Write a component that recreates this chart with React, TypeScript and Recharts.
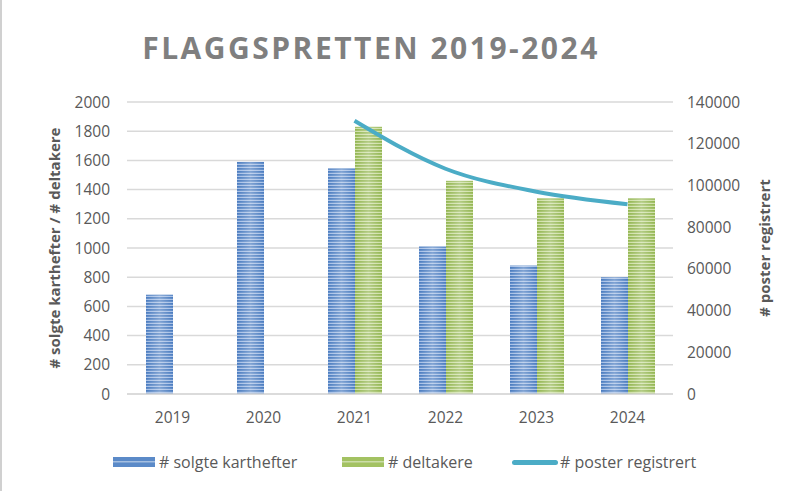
import React from "react";
import {
  ComposedChart,
  Bar,
  Line,
  XAxis,
  YAxis,
  CartesianGrid,
} from "recharts";

const years = ["2019", "2020", "2021", "2022", "2023", "2024"];
const soldMaps = [680, 1590, 1545, 1010, 880, 800];
const participants = [null, null, 1830, 1460, 1340, 1340];
const postsRegistered = [null, null, 131000, 108000, 97000, 91000];

const leftTicks = [0, 200, 400, 600, 800, 1000, 1200, 1400, 1600, 1800, 2000];
const rightTicks = [0, 20000, 40000, 60000, 80000, 100000, 120000, 140000];

const data = years.map((year, i) => ({
  year,
  sold: soldMaps[i],
  participants: participants[i],
  posts: postsRegistered[i],
}));

const TEXT = "#595959";
const FONT = "'Open Sans', sans-serif";

const StripedBar = (props: any) => {
  const { x, y, width, height, fill, gloss } = props;
  if (!height || height <= 0) return null;
  return (
    <g>
      <rect x={x} y={y} width={width} height={height} fill={fill} />
      <rect x={x} y={y} width={width} height={height} fill={gloss} />
    </g>
  );
};

const LegendItem = ({
  kind,
  color,
  label,
  left,
}: {
  kind: string;
  color: string;
  label: string;
  left: number;
}) => (
  <div
    style={{
      position: "absolute",
      left,
      top: 0,
      display: "flex",
      alignItems: "center",
      whiteSpace: "nowrap",
    }}
  >
    {kind === "line" ? (
      <div style={{ width: 46, height: 5, background: color, borderRadius: 3, marginRight: 2 }} />
    ) : (
      <svg width={42} height={10} style={{ marginRight: 4 }}>
        <rect width={42} height={10} fill={color} />
        <rect y={4} width={42} height={1.5} fill="#ffffff" opacity={0.45} />
      </svg>
    )}
    <span>{label}</span>
  </div>
);

const axisLabel = (text: string, dx: number) => (p: any) => {
  const vb = p.viewBox;
  const cx = vb.x + dx;
  const cy = vb.y + vb.height / 2;
  return (
    <text
      x={cx}
      y={cy}
      transform={`rotate(-90, ${cx}, ${cy})`}
      textAnchor="middle"
      dominantBaseline="central"
      fill={TEXT}
      fontSize={15}
      fontWeight={700}
      fontFamily={FONT}
    >
      {text}
    </text>
  );
};

export default function App() {
  return (
    <div
      style={{
        position: "absolute",
        left: 0,
        top: 0,
        width: 789,
        height: 491,
        background: "#fff",
        fontFamily: FONT,
        borderLeft: "2px solid #d0d0d0",
        boxSizing: "border-box",
      }}
    >
      <div
        style={{
          position: "absolute",
          top: 27,
          left: 128,
          width: 482,
          textAlign: "center",
          fontSize: 30,
          fontWeight: 700,
          letterSpacing: 2.5,
          color: "#7f7f7f",
          whiteSpace: "nowrap",
        }}
      >
        FLAGGSPRETTEN 2019-2024
      </div>
      <ComposedChart
        width={789}
        height={491}
        data={data}
        margin={{ top: 102, right: 38, bottom: 67, left: 65 }}
        barGap={0}
        barSize={27}
      >
        <defs>
          <pattern id="blueStripes" width={4} height={3} patternUnits="userSpaceOnUse">
            <rect width={4} height={3} fill="#4a7cc0" />
            <rect y={1.8} width={4} height={1.2} fill="#a7c0e6" />
          </pattern>
          <pattern id="greenStripes" width={4} height={3} patternUnits="userSpaceOnUse">
            <rect width={4} height={3} fill="#93b651" />
            <rect y={1.8} width={4} height={1.2} fill="#cfe0a8" />
          </pattern>
          <linearGradient id="gloss" x1="0" y1="0" x2="1" y2="0">
            <stop offset="0" stopColor="#ffffff" stopOpacity={0} />
            <stop offset="0.5" stopColor="#ffffff" stopOpacity={0.3} />
            <stop offset="1" stopColor="#ffffff" stopOpacity={0} />
          </linearGradient>
        </defs>
        <CartesianGrid
          yAxisId="left"
          vertical={false}
          stroke="#d9d9d9"
          strokeWidth={1.5}
        />
        <XAxis
          dataKey="year"
          axisLine={{ stroke: "#d9d9d9", strokeWidth: 1.5 }}
          tickLine={false}
          tickSize={0}
          tickMargin={18}
          height={30}
          tick={{ fill: TEXT, fontSize: 15.5, fontFamily: FONT }}
        />
        <YAxis
          yAxisId="left"
          orientation="left"
          domain={[0, 2000]}
          ticks={leftTicks}
          interval={0}
          width={60}
          axisLine={false}
          tickLine={false}
          tickSize={0}
          tickMargin={17}
          tick={{ fill: TEXT, fontSize: 15.5, fontFamily: FONT }}
          label={{ content: axisLabel("# solgte karthefter / # deltakere", -13) }}
        />
        <YAxis
          yAxisId="right"
          orientation="right"
          domain={[0, 140000]}
          ticks={rightTicks}
          interval={0}
          width={80}
          axisLine={false}
          tickLine={false}
          tickSize={0}
          tickMargin={14}
          tick={{ fill: TEXT, fontSize: 15.5, fontFamily: FONT, textAnchor: "start" }}
          label={{ content: axisLabel("# poster registrert", 91) }}
        />
        <Bar
          yAxisId="left"
          dataKey="sold"
          fill="url(#blueStripes)"
          shape={(p: any) => <StripedBar {...p} gloss="url(#gloss)" />}
          isAnimationActive={false}
        />
        <Bar
          yAxisId="left"
          dataKey="participants"
          fill="url(#greenStripes)"
          shape={(p: any) => <StripedBar {...p} gloss="url(#gloss)" />}
          isAnimationActive={false}
        />
        <Line
          yAxisId="right"
          dataKey="posts"
          type="monotone"
          stroke="#4bacc6"
          strokeWidth={4}
          dot={false}
          activeDot={false}
          connectNulls={false}
          isAnimationActive={false}
        />
      </ComposedChart>
      <div
        style={{
          position: "absolute",
          top: 451,
          left: 0,
          width: 789,
          height: 24,
          fontSize: 16,
          color: TEXT,
        }}
      >
        <LegendItem kind="bar" color="#5b8ac8" label="# solgte karthefter" left={111} />
        <LegendItem kind="bar" color="#a3c262" label="# deltakere" left={340} />
        <LegendItem kind="line" color="#4bacc6" label="# poster registrert" left={510} />
      </div>
    </div>
  );
}
